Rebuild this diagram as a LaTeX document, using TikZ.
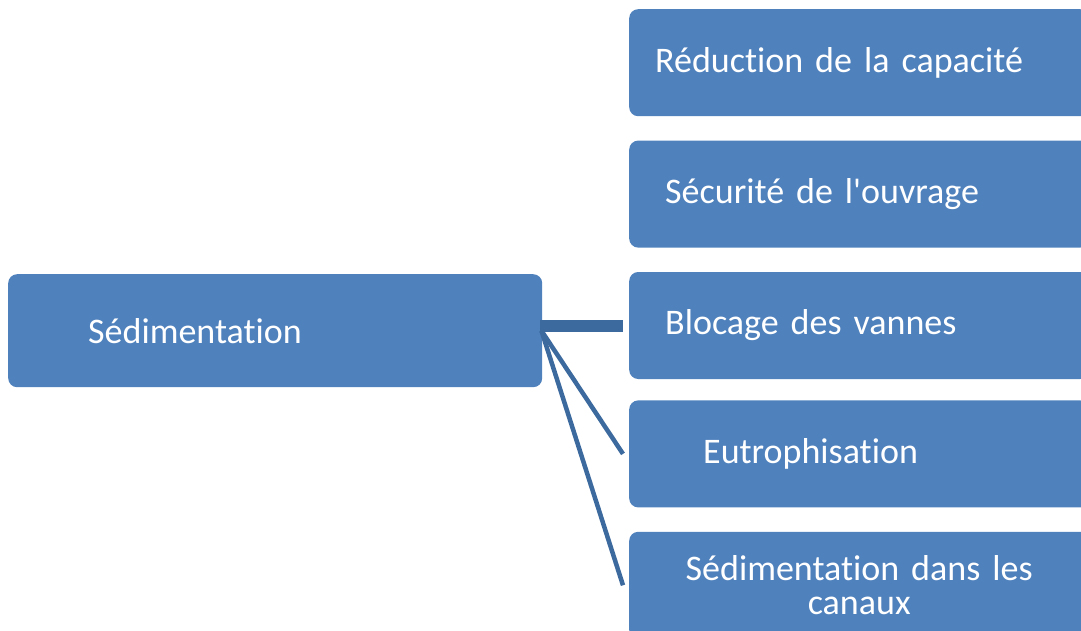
\documentclass[tikz,border=0pt]{standalone}
\usepackage{fontspec}
\setmainfont{Carlito}[Ligatures={NoCommon}]
\usepackage{tikz}
\usetikzlibrary{positioning}
\definecolor{boxblue}{HTML}{4F81BD}
\definecolor{linkblue}{HTML}{3D6A9E}
\tikzset{
    block/.style={rectangle, rounded corners=9pt, fill=boxblue, text=white,
        minimum height=107pt, font=\fontsize{36}{36}\selectfont},
    effet/.style={block, minimum width=460pt, align=left},
    link/.style={draw=linkblue, line width=4.5pt},
    bar/.style={draw=linkblue, line width=12pt},
}

\begin{document}
\begin{tikzpicture}
        [x=1pt, y=-1pt, node distance=24pt]

        \useasboundingbox (0,0) rectangle (1081,631);
        \clip (0,0) rectangle (1081,631);

        \node[block, minimum height=113pt, inner xsep=80pt, text width=374pt, align=left,
            anchor=north west] (sed) at (8,274) {Sédimentation};

        \node[effet, inner xsep=26pt, text width=408pt, anchor=north west] (capa) at (629,9) {Réduction de la capacité};
        \node[effet, inner xsep=36pt, text width=388pt, below=of capa] (secu) {Sécurité de l\textquotesingle ouvrage};
        \node[effet, inner xsep=36pt, text width=388pt, below=of secu] (vannes) {Blocage des vannes};
        \node[effet, inner xsep=74pt, text width=312pt, below=21pt of vannes] (eutro) {Eutrophisation};
        \node[effet, inner xsep=40pt, text width=380pt, align=center, below=of eutro] (canaux) {Sédimentation dans les\\[-2pt]canaux};

        \draw[bar] ([xshift=-2pt]sed.east |- vannes.west) -- ([xshift=-6pt]vannes.west);
        \draw[link] ([xshift=-1pt]sed.east) -- ([xshift=-6pt]eutro.west);
        \draw[link] ([xshift=-1pt]sed.east) -- ([xshift=-6pt]canaux.west);

    \end{tikzpicture}
\end{document}
